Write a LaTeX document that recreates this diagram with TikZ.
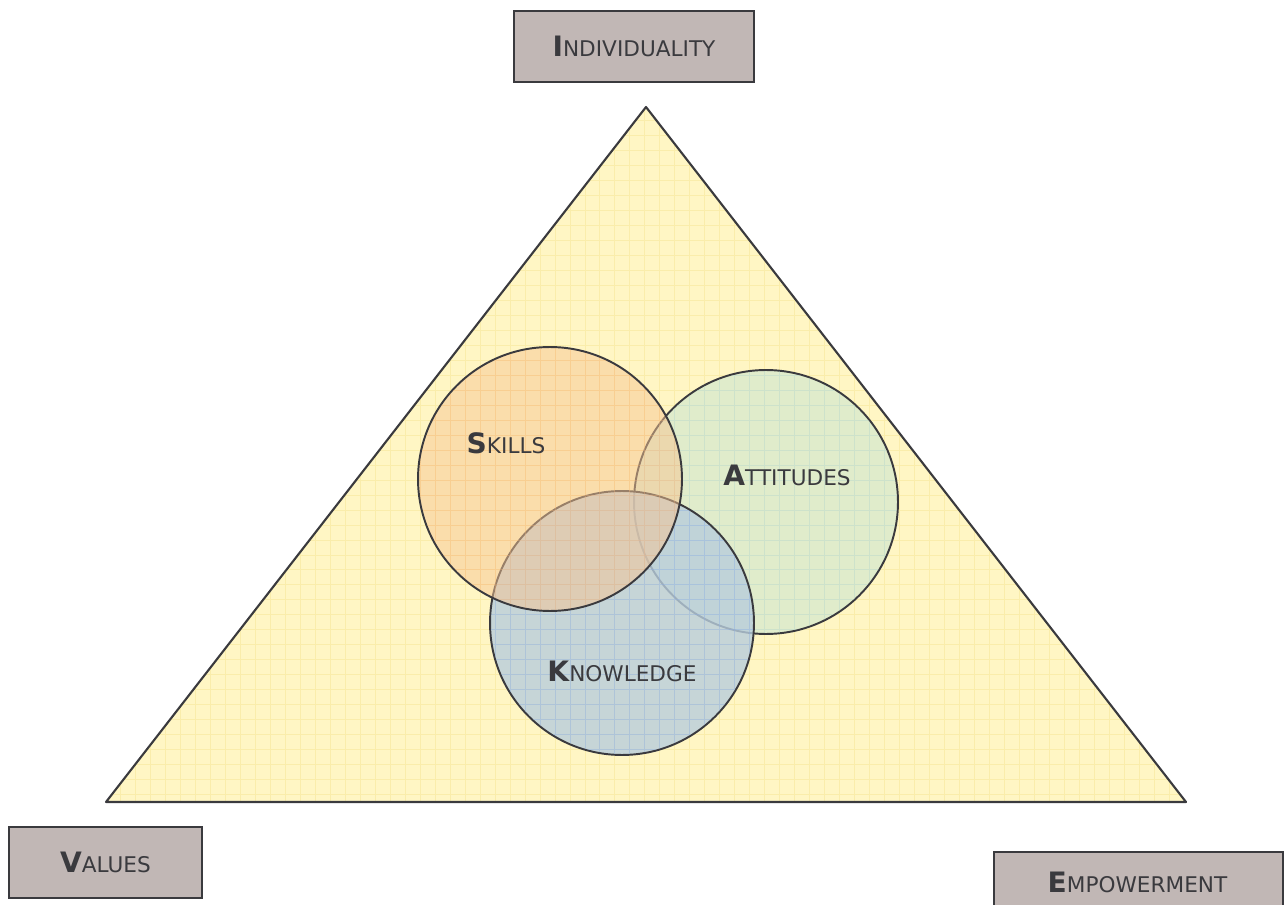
\documentclass[tikz,border=0pt]{standalone}
\usepackage{fontspec}
\setmainfont{DejaVu Sans}
\usetikzlibrary{positioning}

\definecolor{edgegrey}{HTML}{3A3A3E}
\definecolor{tagfill}{HTML}{C1B7B5}
\definecolor{sand}{HTML}{FFF6C4}
\definecolor{sandgrid}{HTML}{F6E48E}
\definecolor{peach}{HTML}{F7C593}
\definecolor{sage}{HTML}{E0ECCB}
\definecolor{sagegrid}{HTML}{B7D6CC}
\definecolor{steel}{HTML}{B8CDDC}
\definecolor{steelgrid}{HTML}{8DAEE2}

% big bold first letter, the rest in small capitals
\newcommand{\leadcap}[2]{{\fontsize{16}{16}\selectfont\bfseries #1}{\fontsize{12.3}{13}\selectfont #2}}

\begin{document}
\begin{tikzpicture}[
    x=0.02cm, y=-0.02cm,
    every node/.style={text=edgegrey},
    tag/.style={draw=edgegrey, line width=1.2pt, fill=tagfill, minimum height=1.42cm, inner sep=0pt},
    ring/.style={circle, draw=edgegrey, line width=1.1pt, minimum size=5.28cm, inner sep=0pt},
    paper/.style={line width=0.45pt, step=0.3cm}
]
\useasboundingbox (0,0) rectangle (1288,905);

% triangle with its squared paper
\fill[sand] (646,107) -- (1186,802) -- (106,802) -- cycle;
\begin{scope}
  \clip (646,107) -- (1186,802) -- (106,802) -- cycle;
  \draw[paper, sandgrid, opacity=0.45] (0,0) grid (1288,905);
\end{scope}
\draw[edgegrey, line width=1.2pt, line join=round] (646,107) -- (1186,802) -- (106,802) -- cycle;

% the three circles
\node[ring, fill=sage] (attitudes) at (766,502) {};
\begin{scope}
  \clip (attitudes.center) circle[radius=131];
  \draw[paper, sagegrid, opacity=0.45] (0,0) grid (1288,905);
\end{scope}

\node[ring, fill=steel, fill opacity=0.8] (knowledge) at (622,623) {};
\begin{scope}
  \clip (knowledge.center) circle[radius=131];
  \draw[paper, steelgrid, opacity=0.4] (0,0) grid (1288,905);
\end{scope}

\node[ring, fill=peach, fill opacity=0.5] (skills) at (550,479) {};
\begin{scope}
  \clip (skills.center) circle[radius=131];
  \draw[paper, peach!80!orange, opacity=0.3] (0,0) grid (1288,905);
\end{scope}

\node at (506,443) {\leadcap{S}{KILLS}};
\node at (787,475) {\leadcap{A}{TTITUDES}};
\node at (622,671) {\leadcap{K}{NOWLEDGE}};

% corner labels
\node[tag, minimum width=4.8cm] (individuality) at (634,46.5) {\leadcap{I}{NDIVIDUALITY}};
\node[tag, minimum width=3.86cm] (values) at (105.5,862.5) {\leadcap{V}{ALUES}};
\node[tag, minimum width=5.78cm, anchor=north west] (empowerment) at (993,851) {};
\node at (1137.5,882) {\leadcap{E}{MPOWERMENT}};
\end{tikzpicture}
\end{document}
